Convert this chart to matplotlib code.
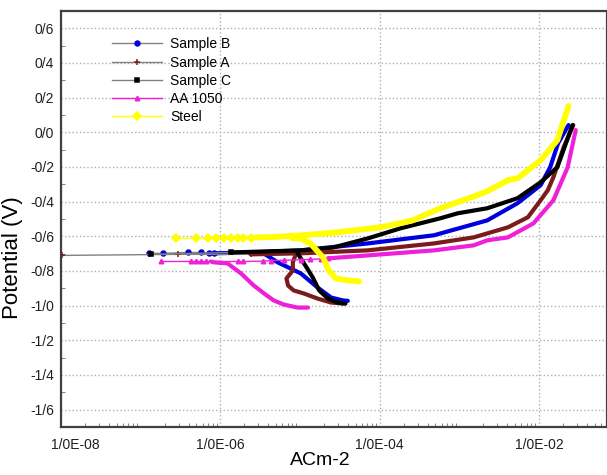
import numpy as np
import matplotlib
matplotlib.use("Agg")
import matplotlib.pyplot as plt
from matplotlib.lines import Line2D
from matplotlib.ticker import FixedLocator, FuncFormatter, LogLocator, NullFormatter
import matplotlib.transforms as mtransforms

plt.rcParams['font.family'] = ['Liberation Sans', 'DejaVu Sans']

# log10(current, A/cm2) and potential (V)
# Sample B
b_sparse_log = [-6.90, -6.72, -6.41, -6.24, -6.14, -6.08]
b_sparse_E = [-0.698, -0.698, -0.693, -0.693, -0.698, -0.698]
b_an_log = [-6.08, -5.62, -4.99, -4.15, -3.32, -2.65, -2.27, -1.98, -1.86, -1.76, -1.63]
b_an_E = [-0.698, -0.693, -0.681, -0.641, -0.594, -0.508, -0.409, -0.305, -0.201, -0.062, 0.042]
b_cat_log = [-5.45, -5.28, -4.99, -4.78, -4.61, -4.46, -4.40]
b_cat_E = [-0.700, -0.750, -0.814, -0.895, -0.953, -0.970, -0.972]

# Sample A
a_sparse_log = [-7.99, -6.53, -5.62]
a_sparse_E = [-0.710, -0.704, -0.704]
a_an_log = [-5.62, -4.99, -4.15, -3.32, -2.82, -2.39, -2.14, -1.98, -1.89, -1.82, -1.69, -1.57]
a_an_E = [-0.704, -0.698, -0.681, -0.641, -0.606, -0.548, -0.490, -0.392, -0.334, -0.259, -0.085, 0.042]
a_cat_log = [-5.05, -5.09, -5.09, -5.17, -5.15, -5.08, -4.95, -4.78, -4.61, -4.45]
a_cat_E = [-0.700, -0.750, -0.797, -0.843, -0.884, -0.912, -0.930, -0.959, -0.982, -0.988]

# Sample C
c_sparse_log = [-6.87, -5.87]
c_sparse_E = [-0.704, -0.693]
c_an_log = [-5.87, -4.99, -4.58, -4.15, -3.74, -3.24, -3.02, -2.65, -2.27, -1.98, -1.77, -1.58]
c_an_E = [-0.693, -0.681, -0.664, -0.612, -0.554, -0.496, -0.467, -0.438, -0.380, -0.288, -0.201, 0.042]
c_cat_log = [-5.03, -4.95, -4.84, -4.76, -4.65, -4.53, -4.43]
c_cat_E = [-0.698, -0.756, -0.837, -0.912, -0.959, -0.982, -0.988]

# AA 1050
m_sparse_log = [-6.75, -6.37, -6.31, -6.24, -6.18, -5.78, -5.71, -5.47, -5.37, -5.20, -4.99, -4.87, -4.74, -4.65]
m_sparse_E = [-0.745, -0.745, -0.745, -0.745, -0.745, -0.745, -0.745, -0.743, -0.740, -0.738, -0.735, -0.733, -0.730, -0.727]
m_an_log = [-4.65, -4.15, -3.32, -2.82, -2.65, -2.39, -2.07, -1.82, -1.64, -1.54]
m_an_E = [-0.727, -0.710, -0.681, -0.652, -0.623, -0.606, -0.525, -0.392, -0.201, 0.013]
m_cat_log = [-6.12, -6.08, -5.91, -5.74, -5.58, -5.45, -5.33, -5.20, -5.03, -4.90]
m_cat_E = [-0.745, -0.750, -0.756, -0.814, -0.884, -0.930, -0.970, -0.994, -1.011, -1.011]

# Steel
s_sparse_log = [-6.56, -6.31, -6.16, -6.06, -5.96, -5.87, -5.78, -5.71, -5.62]
s_sparse_E = [-0.612, -0.612, -0.612, -0.612, -0.612, -0.612, -0.612, -0.610, -0.608]
s_an_log = [-5.62, -5.30, -4.99, -4.60, -3.99, -3.60, -3.24, -2.82, -2.65, -2.39, -2.27, -1.98, -1.77, -1.63]
s_an_E = [-0.608, -0.603, -0.594, -0.580, -0.548, -0.510, -0.438, -0.370, -0.340, -0.276, -0.265, -0.161, -0.045, 0.152]
s_cat_log = [-5.10, -4.99, -4.87, -4.71, -4.64, -4.55, -4.40, -4.26]
s_cat_E = [-0.610, -0.612, -0.641, -0.722, -0.797, -0.843, -0.854, -0.860]

y_ticks = [0.6, 0.4, 0.2, 0.0, -0.2, -0.4, -0.6, -0.8, -1.0, -1.2, -1.4, -1.6]
x_ticks = [1e-8, 1e-6, 1e-4, 1e-2]

series = [
    ("Sample B", b_sparse_log, b_sparse_E, b_an_log, b_an_E, b_cat_log, b_cat_E, "#0000dd", "#808080", "o", 3.5, 3),
    ("Sample A", a_sparse_log, a_sparse_E, a_an_log, a_an_E, a_cat_log, a_cat_E, "#7a1c1c", "#808080", "+", 4, 3),
    ("Sample C", c_sparse_log, c_sparse_E, c_an_log, c_an_E, c_cat_log, c_cat_E, "#000000", "#808080", "s", 3, 3),
    ("AA 1050", m_sparse_log, m_sparse_E, m_an_log, m_an_E, m_cat_log, m_cat_E, "#ee20d8", "#ee20d8", "^", 3.2, 3),
    ("Steel", s_sparse_log, s_sparse_E, s_an_log, s_an_E, s_cat_log, s_cat_E, "#ffff00", "#ffff00", "D", 4.5, 4.2),
]

fig = plt.figure(figsize=(6.07, 4.75), dpi=100)
ax = fig.add_axes([61 / 607, 1 - 427 / 475, 546 / 607, 416 / 475])

handles = []
for name, sp_l, sp_e, an_l, an_e, ca_l, ca_e, col, lcol, mk, ms, lw in series:
    ax.plot(np.power(10.0, sp_l), sp_e, color=lcol, lw=1, marker=mk, ms=ms,
            mfc=col, mec=col, mew=1.1)
    ax.plot(np.power(10.0, an_l), an_e, color=col, lw=lw, solid_capstyle='round')
    ax.plot(np.power(10.0, ca_l), ca_e, color=col, lw=lw, solid_capstyle='round')
    handles.append(Line2D([], [], color=lcol, lw=1, marker=mk, ms=ms, mfc=col, mec=col, mew=1.1, label=name))

ax.set_xscale('log')
ax.set_xlim(1e-8, 10 ** -1.147)
ax.set_ylim(-1.70, 0.70)

ax.xaxis.set_major_locator(FixedLocator(x_ticks))
ax.xaxis.set_major_formatter(FuncFormatter(lambda v, p: "1/0E-%02d" % round(-np.log10(v))))
ax.xaxis.set_minor_locator(LogLocator(base=10, subs=np.arange(2, 10)))
ax.xaxis.set_minor_formatter(NullFormatter())
ax.yaxis.set_major_locator(FixedLocator(y_ticks))
ax.yaxis.set_major_formatter(FuncFormatter(lambda v, p: ("%.1f" % (0.0 if abs(v) < 1e-9 else v)).replace('.', '/')))
ax.yaxis.set_minor_locator(FixedLocator(np.round(np.arange(-1.7, 0.71, 0.1), 2)))

ax.tick_params(which='major', direction='in', length=0, labelsize=10, colors='#202020')
ax.tick_params(axis='x', which='major', pad=8)
ax.tick_params(axis='y', which='major', pad=5)
ax.tick_params(which='minor', direction='in', length=3, color='#707070')

ax.grid(True, which='major', linestyle=':', color='#b0b0b0', lw=1)
for side in ['left', 'bottom', 'top', 'right']:
    ax.spines[side].set_color('#404040')
    ax.spines[side].set_linewidth(1.6)

# first x label sits a little to the right of the axis corner
lbl = ax.get_xticklabels()[0]
lbl.set_transform(lbl.get_transform() + mtransforms.ScaledTranslation(14 / 100, 0, fig.dpi_scale_trans))

ax.set_xlabel("ACm-2", fontsize=14)
ax.xaxis.set_label_coords(0.474, -0.06)
ax.set_ylabel("Potential (V)", fontsize=16)
ax.yaxis.set_label_coords(-0.07, 0.406)

ax.legend(handles=handles, loc='upper left', bbox_to_anchor=(0.083, 0.95), frameon=False,
          fontsize=10, handlelength=3.6, handletextpad=0.6, labelspacing=0.3, borderaxespad=0)

fig.savefig("out.png", dpi=100)
